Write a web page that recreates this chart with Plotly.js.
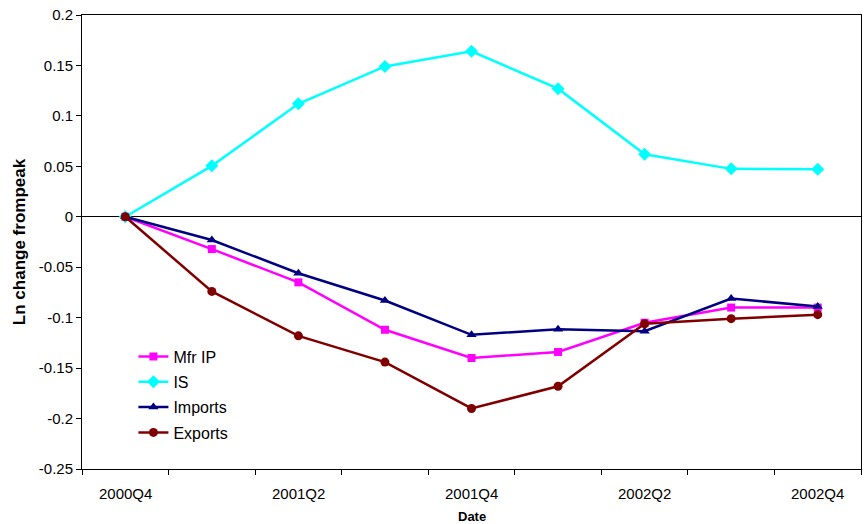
<!DOCTYPE html>
<html>
<head>
<meta charset="utf-8">
<script src="https://cdn.plot.ly/plotly-3.0.1.min.js"></script>
<style>
  html, body { margin: 0; padding: 0; background: #fff; }
  #plot { width: 865px; height: 524px; }
</style>
</head>
<body>
<div id="plot"></div>
<script>
// quarters on the x axis
let quarters = ['2000Q4', '2001Q1', '2001Q2', '2001Q3', '2001Q4', '2002Q1', '2002Q2', '2002Q3', '2002Q4'];
// quarters that carry a tick label
let labeledQuarters = ['2000Q4', '2001Q2', '2001Q4', '2002Q2', '2002Q4'];

// ln change from peak
let mfrIP   = [0, -0.032, -0.065, -0.112, -0.140, -0.134, -0.105, -0.090, -0.090];
let isVals  = [0, 0.0505, 0.112, 0.149, 0.164, 0.127, 0.062, 0.0475, 0.047];
let imports = [0, -0.023, -0.056, -0.083, -0.117, -0.1115, -0.1135, -0.081, -0.089];
let exports = [0, -0.074, -0.118, -0.144, -0.190, -0.168, -0.106, -0.101, -0.097];

let yTickVals   = [-0.25, -0.2, -0.15, -0.1, -0.05, 0, 0.05, 0.1, 0.15, 0.2];
let yTickLabels = ['-0.25', '-0.2', '-0.15', '-0.1', '-0.05', '0', '0.05', '0.1', '0.15', '0.2'];

// category slots 0..8, points centred in their slot like Excel does
let xPos = quarters.map((q, i) => i);

function makeTrace(name, values, color, symbol, size) {
  return {
    x: xPos,
    y: values,
    text: quarters,
    name: name,
    legendgroup: name,
    type: 'scatter',
    mode: 'lines+markers',
    line: {color: color, width: 2.5},
    marker: {color: color, symbol: symbol, size: size}
  };
}

let data = [
  makeTrace('Mfr IP', mfrIP, '#FF00FF', 'square', 8),
  makeTrace('IS', isVals, '#00FFFF', 'diamond', 10),
  makeTrace('Imports', imports, '#000080', 'triangle-up', 9),
  makeTrace('Exports', exports, '#800000', 'circle', 9)
];

let font = 'Arial, "Liberation Sans", sans-serif';

// quarter labels under the axis (plotly drops the in-between boundary ticks
// when the axis carries its own labels, so they are written as annotations)
let annotations = labeledQuarters.map(q => ({
  x: quarters.indexOf(q), xref: 'x',
  y: 0, yref: 'paper',
  yanchor: 'middle', yshift: -24,
  text: q, showarrow: false,
  font: {family: font, size: 15, color: '#000'}
}));
annotations.push({
  x: 0.5, xref: 'paper', y: 0, yref: 'paper',
  yanchor: 'middle', yshift: -47,
  text: '<b>Date</b>', showarrow: false,
  font: {family: font, size: 13, color: '#000'}
});

let layout = {
  width: 865,
  height: 524,
  margin: {l: 82, r: 4, t: 15, b: 55},
  paper_bgcolor: '#fff',
  plot_bgcolor: '#fff',
  font: {family: font, size: 15, color: '#000'},
  showlegend: true,
  legend: {
    x: 0.066, y: 0.285, xanchor: 'left', yanchor: 'top',
    bgcolor: 'rgba(0,0,0,0)',
    font: {family: font, size: 16, color: '#000'},
    traceorder: 'grouped',
    tracegroupgap: 1.5
  },
  xaxis: {
    type: 'linear',
    range: [-0.5, quarters.length - 0.5],
    tickmode: 'linear',
    tick0: -0.5,
    dtick: 1,
    ticks: 'outside',
    ticklen: 5,
    tickcolor: '#000',
    showticklabels: false,
    showline: true,
    linecolor: '#000',
    linewidth: 1,
    mirror: true,
    showgrid: false,
    zeroline: false
  },
  yaxis: {
    range: [-0.25, 0.2],
    tickmode: 'array',
    tickvals: yTickVals,
    ticktext: yTickLabels,
    ticks: 'outside',
    ticklen: 5,
    tickcolor: '#000',
    showline: true,
    linecolor: '#000',
    linewidth: 1,
    mirror: true,
    showgrid: false,
    zeroline: true,
    zerolinecolor: '#000',
    zerolinewidth: 1,
    tickfont: {family: font, size: 15, color: '#000'},
    title: {text: '<b>Ln change frompeak</b>', font: {family: font, size: 17, color: '#000'}, standoff: 8}
  },
  annotations: annotations
};

Plotly.newPlot('plot', data, layout, {displayModeBar: false, staticPlot: true});
</script>
</body>
</html>
